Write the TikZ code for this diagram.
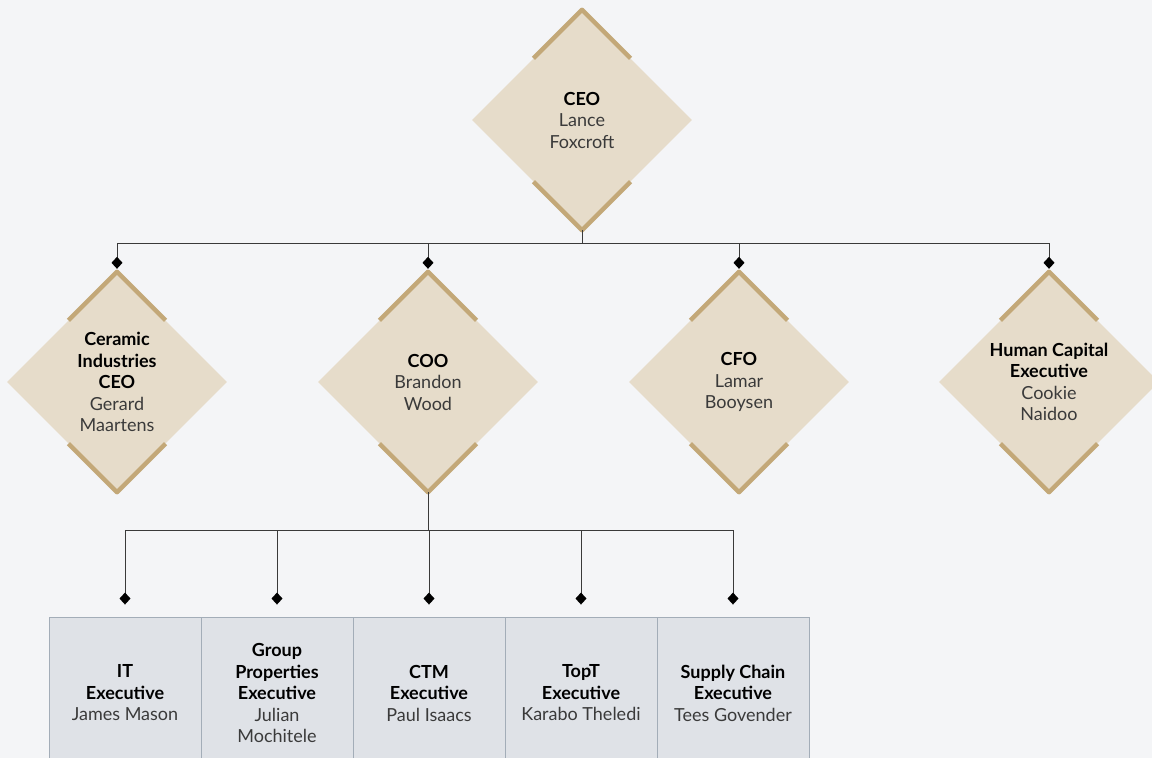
\documentclass[tikz,border=0pt]{standalone}
\usepackage{fontspec}
\setmainfont{Lato}
\usetikzlibrary{shapes.geometric,arrows.meta,calc}

\definecolor{pagebg}{HTML}{F4F5F7}
\definecolor{diamondfill}{HTML}{E6DCCA}
\definecolor{goldtrimcol}{HTML}{C3A878}
\definecolor{boxfill}{HTML}{DFE2E7}
\definecolor{boxline}{HTML}{A3ADB8}
\definecolor{linkgrey}{HTML}{3A3A3A}
\definecolor{nametext}{HTML}{3A3A3A}

\tikzset{
  rolediamond/.style={diamond,aspect=1,minimum width=220pt,minimum height=220pt,
    inner sep=0pt,fill=diamondfill,align=center,text=black,
    font=\fontsize{18}{21.5}\selectfont},
  unitbox/.style={rectangle,draw=boxline,line width=0.9pt,fill=boxfill,
    minimum width=152pt,minimum height=152pt,inner sep=0pt,align=center,
    text=black,font=\fontsize{18}{21.5}\selectfont},
  goldtrim/.style={draw=goldtrimcol,line width=4.5pt,line join=round},
  link/.style={draw=linkgrey,line width=1pt,
    -{Diamond[length=12pt,width=11pt,fill=black,line width=0pt]}},
}

% gold edges on the top and bottom corners of a diamond
\newcommand\trimdiamond[1]{%
  \draw[goldtrim] ($(#1.north)!0.44!(#1.west)$) -- (#1.north) -- ($(#1.north)!0.44!(#1.east)$);
  \draw[goldtrim] ($(#1.south)!0.44!(#1.west)$) -- (#1.south) -- ($(#1.south)!0.44!(#1.east)$);
}
\newcommand\who[1]{\textcolor{nametext}{#1}}

\begin{document}
\begin{tikzpicture}[x=1pt,y=-1pt]
  \fill[pagebg] (0,0) rectangle (1152,758);
  \useasboundingbox (0,0) rectangle (1152,758);
  \clip (0,0) rectangle (1152,758);

  % top and second level
  \node[rolediamond] (ceo) at (582,120) {\textbf{CEO}\\\who{Lance}\\\who{Foxcroft}};
  \node[rolediamond] (cer) at (117,382) {\textbf{Ceramic}\\\textbf{Industries}\\\textbf{CEO}\\\who{Gerard}\\\who{Maartens}};
  \node[rolediamond] (coo) at (428,382) {\textbf{COO}\\\who{Brandon}\\\who{Wood}};
  \node[rolediamond] (cfo) at (739,382) {\textbf{CFO}\\\who{Lamar}\\\who{Booysen}};
  \node[rolediamond] (hce) at (1049,382) {\textbf{Human Capital}\\\textbf{Executive}\\\who{Cookie}\\\who{Naidoo}};
  \trimdiamond{ceo}
  \trimdiamond{cer}
  \trimdiamond{coo}
  \trimdiamond{cfo}
  \trimdiamond{hce}

  % units under the COO
  \node[unitbox] (itx) at (125,693) {\textbf{IT}\\\textbf{Executive}\\\who{James Mason}};
  \node[unitbox] (gpx) at (277,693) {\textbf{Group}\\\textbf{Properties}\\\textbf{Executive}\\\who{Julian}\\\who{Mochitele}};
  \node[unitbox] (ctm) at (429,693) {\textbf{CTM}\\\textbf{Executive}\\\who{Paul Isaacs}};
  \node[unitbox] (tpt) at (581,693) {\textbf{TopT}\\\textbf{Executive}\\\who{Karabo Theledi}};
  \node[unitbox] (scx) at (733,693) {\textbf{Supply Chain}\\\textbf{Executive}\\\who{Tees Govender}};

  % connectors
  \coordinate (topbus) at (582,243);
  \coordinate (lowbus) at (428,530);
  \draw[link,shorten >=3pt] (ceo.south) -- (topbus) -| (cer.north);
  \draw[link,shorten >=3pt] (ceo.south) -- (topbus) -| (coo.north);
  \draw[link,shorten >=3pt] (ceo.south) -- (topbus) -| (cfo.north);
  \draw[link,shorten >=3pt] (ceo.south) -- (topbus) -| (hce.north);
  \draw[link,shorten >=12pt] (coo.south) -- (lowbus) -| (itx.north);
  \draw[link,shorten >=12pt] (coo.south) -- (lowbus) -| (gpx.north);
  \draw[link,shorten >=12pt] (coo.south) -- (lowbus) -| (ctm.north);
  \draw[link,shorten >=12pt] (coo.south) -- (lowbus) -| (tpt.north);
  \draw[link,shorten >=12pt] (coo.south) -- (lowbus) -| (scx.north);
\end{tikzpicture}
\end{document}
